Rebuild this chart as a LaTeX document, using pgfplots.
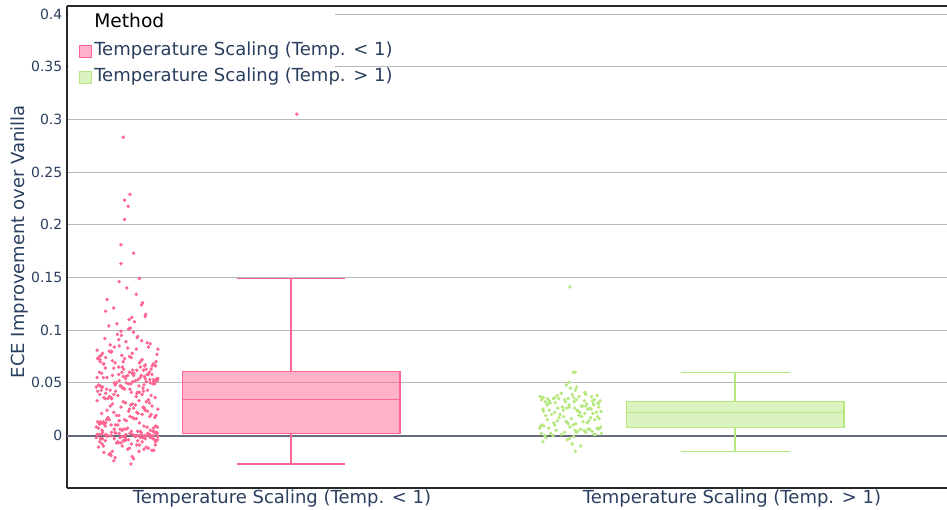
\documentclass[border=0pt]{standalone}
\usepackage{fontspec}
\setmainfont{DejaVu Sans}
\usepackage{pgfplots}
\pgfplotsset{compat=1.18}
\usepgfplotslibrary{statistics}
\usetikzlibrary{calc}
\definecolor{pinkline}{HTML}{FF6692}
\definecolor{greenline}{HTML}{B6E880}
\definecolor{plotlytext}{HTML}{2A3F5F}
\definecolor{gridgray}{RGB}{185,185,185}
\definecolor{zerogray}{RGB}{100,108,126}
\definecolor{framegray}{RGB}{40,40,40}
\begin{document}
\begin{tikzpicture}
\begin{axis}[
  name=ax,
  set layers=standard,
  scale only axis,
  width=660pt, height=361.5pt,
  xmin=-0.478, xmax=1.478,
  ymin=-0.0498, ymax=0.4076,
  axis x line*=box, axis y line*=left,
  axis line style={draw=framegray, line width=0.9pt},
  xtick={0,1},
  xticklabels={Temperature Scaling (Temp. < 1), Temperature Scaling (Temp. > 1)},
  ytick={0.05,0.1,0.15,0.2,0.25,0.3,0.35,0.4},
  yticklabels={0.05,0.1,0.15,0.2,0.25,0.3,0.35,0.4},
  extra y ticks={0},
  extra y tick labels={0},
  extra y tick style={grid=none, major tick length=0pt},
  major tick length=0pt,
  ymajorgrids,
  grid style={gridgray, line width=0.75pt},
  tick label style={color=plotlytext},
  yticklabel style={font=\fontsize{10.5}{12}\selectfont},
  xticklabel style={font=\fontsize{13.5}{16}\selectfont, inner sep=1pt},
  ylabel={ECE Improvement over Vanilla},
  every axis y label/.style={at={(axis description cs:-0.0545,0.511)}, rotate=90, anchor=center, font=\fontsize{13.5}{16}\selectfont, color=plotlytext},
  legend cell align=left,
  legend style={at={(0,1)}, anchor=north west, draw=none, fill=none,
    inner xsep=9pt, inner ysep=7.75pt, row sep=6.5pt,
    font=\fontsize{13.5}{16}\selectfont, text=plotlytext,
    nodes={inner xsep=1.5pt, inner ysep=0pt, text height=10pt, text depth=3pt}},
  boxplot/draw direction=y,
]
\fill[white] (rel axis cs:0.002,0.997) rectangle (rel axis cs:0.3045,0.805);
% zero line
\addplot[zerogray, line width=1.5pt, forget plot] coordinates {(-0.478,0) (1.478,0)};

% Pink jittered points
\addplot[only marks, mark=*, mark size=1.1pt, color=pinkline, forget plot] coordinates {
(-0.332,0.001) (-0.399,-0.003) (-0.306,0.000) (-0.365,-0.006) (-0.280,0.002) (-0.352,-0.001) (-0.297,-0.012) (-0.410,0.001) (-0.341,-0.004) (-0.315,-0.002)
(-0.384,-0.018) (-0.286,0.000) (-0.358,-0.007) (-0.406,0.001) (-0.323,-0.009) (-0.293,-0.002) (-0.377,-0.015) (-0.338,0.002) (-0.393,-0.005) (-0.276,-0.001)
(-0.371,-0.021) (-0.329,0.000) (-0.402,-0.003) (-0.302,-0.011) (-0.347,0.001) (-0.311,-0.006) (-0.413,-0.002) (-0.289,-0.014) (-0.362,0.002) (-0.335,-0.008)
(-0.389,-0.001) (-0.283,-0.004) (-0.380,-0.019) (-0.320,0.000) (-0.355,-0.010) (-0.295,0.001) (-0.404,-0.003) (-0.343,-0.013) (-0.308,-0.002) (-0.368,-0.007)
(-0.278,0.002) (-0.396,-0.016) (-0.326,-0.001) (-0.350,-0.005) (-0.300,0.000) (-0.374,-0.024) (-0.287,-0.003) (-0.411,0.001) (-0.317,-0.009) (-0.360,-0.002)
(-0.339,-0.012) (-0.387,0.000) (-0.281,-0.006) (-0.382,-0.017) (-0.313,0.001) (-0.346,-0.004) (-0.291,-0.001) (-0.400,-0.008) (-0.333,-0.020) (-0.370,0.002)
(-0.304,-0.003) (-0.408,-0.011) (-0.324,0.000) (-0.353,-0.005) (-0.285,-0.014) (-0.392,0.001) (-0.309,-0.002) (-0.363,-0.007) (-0.336,-0.027) (-0.379,0.000)
(-0.277,-0.004) (-0.397,-0.010) (-0.299,0.002) (-0.356,-0.001) (-0.318,-0.015) (-0.405,-0.006) (-0.294,0.001) (-0.373,-0.003) (-0.330,-0.022) (-0.390,0.000)
(-0.282,-0.009) (-0.348,-0.002) (-0.307,-0.013) (-0.401,0.001) (-0.321,-0.005)
(-0.321,0.004) (-0.401,0.021) (-0.307,0.009) (-0.348,0.031) (-0.282,0.003) (-0.390,0.015) (-0.330,0.026) (-0.373,0.006) (-0.294,0.018) (-0.405,0.011)
(-0.318,0.033) (-0.356,0.005) (-0.299,0.023) (-0.397,0.013) (-0.336,0.029) (-0.379,0.003) (-0.277,0.008) (-0.363,0.019) (-0.309,0.027) (-0.392,0.012)
(-0.285,0.004) (-0.353,0.032) (-0.324,0.016) (-0.408,0.007) (-0.304,0.024) (-0.370,0.010) (-0.333,0.030) (-0.400,0.005) (-0.291,0.020) (-0.346,0.014)
(-0.313,0.003) (-0.382,0.028) (-0.281,0.009) (-0.387,0.017) (-0.339,0.025) (-0.360,0.006) (-0.317,0.012) (-0.411,0.033) (-0.287,0.004) (-0.374,0.022)
(-0.300,0.008) (-0.350,0.015) (-0.326,0.029) (-0.396,0.011) (-0.278,0.003) (-0.368,0.019) (-0.308,0.026) (-0.343,0.007) (-0.404,0.013) (-0.295,0.031)
(-0.355,0.005) (-0.320,0.021) (-0.380,0.010) (-0.283,0.017) (-0.389,0.024) (-0.335,0.004) (-0.362,0.014) (-0.289,0.028) (-0.413,0.008) (-0.311,0.020)
(-0.347,0.006) (-0.302,0.032) (-0.402,0.012) (-0.329,0.016) (-0.371,0.003) (-0.276,0.025) (-0.393,0.009) (-0.338,0.018) (-0.377,0.030) (-0.293,0.005)
(-0.323,0.022) (-0.406,0.011) (-0.358,0.027) (-0.286,0.007) (-0.384,0.015) (-0.315,0.004) (-0.341,0.023) (-0.410,0.013) (-0.297,0.034) (-0.352,0.006)
(-0.280,0.019) (-0.365,0.010) (-0.306,0.026) (-0.399,0.003) (-0.332,0.017)
(-0.396,0.036) (-0.326,0.052) (-0.350,0.044) (-0.300,0.058) (-0.374,0.039) (-0.287,0.049) (-0.411,0.055) (-0.317,0.041) (-0.360,0.047) (-0.339,0.060)
(-0.387,0.035) (-0.281,0.053) (-0.382,0.043) (-0.313,0.057) (-0.346,0.050) (-0.291,0.038) (-0.400,0.046) (-0.333,0.059) (-0.370,0.042) (-0.304,0.054)
(-0.408,0.048) (-0.324,0.037) (-0.353,0.056) (-0.285,0.051) (-0.392,0.040) (-0.309,0.045) (-0.363,0.058) (-0.277,0.052) (-0.379,0.035) (-0.336,0.049)
(-0.397,0.055) (-0.299,0.043) (-0.356,0.060) (-0.318,0.047) (-0.405,0.039) (-0.294,0.053) (-0.373,0.050) (-0.330,0.057) (-0.390,0.044) (-0.282,0.036)
(-0.348,0.054) (-0.307,0.048) (-0.401,0.059) (-0.321,0.041) (-0.332,0.051) (-0.399,0.046) (-0.306,0.056) (-0.365,0.038) (-0.280,0.052) (-0.352,0.045)
(-0.297,0.058) (-0.410,0.042) (-0.341,0.049) (-0.315,0.055) (-0.384,0.037) (-0.286,0.053) (-0.358,0.047) (-0.406,0.060) (-0.323,0.040) (-0.293,0.050)
(-0.377,0.057) (-0.338,0.044) (-0.393,0.035) (-0.276,0.054) (-0.371,0.048) (-0.329,0.059) (-0.402,0.043) (-0.302,0.051) (-0.347,0.056) (-0.311,0.039)
(-0.413,0.046) (-0.289,0.058) (-0.362,0.052) (-0.335,0.041) (-0.389,0.055) (-0.283,0.049) (-0.380,0.036) (-0.320,0.053) (-0.355,0.045) (-0.295,0.060)
(-0.404,0.047) (-0.343,0.057) (-0.308,0.042) (-0.368,0.050) (-0.278,0.054)
(-0.332,0.062) (-0.399,0.078) (-0.306,0.066) (-0.363,0.091) (-0.280,0.070) (-0.352,0.063) (-0.297,0.084) (-0.410,0.073) (-0.341,0.101) (-0.315,0.065)
(-0.384,0.080) (-0.286,0.068) (-0.357,0.095) (-0.406,0.075) (-0.323,0.062) (-0.293,0.087) (-0.377,0.071) (-0.340,0.110) (-0.393,0.064) (-0.276,0.082)
(-0.371,0.069) (-0.330,0.098) (-0.402,0.076) (-0.302,0.063) (-0.347,0.089) (-0.311,0.072) (-0.392,0.118) (-0.289,0.066) (-0.362,0.085) (-0.335,0.074)
(-0.385,0.104) (-0.283,0.067) (-0.380,0.079) (-0.322,0.093) (-0.355,0.065) (-0.310,0.126) (-0.404,0.070) (-0.343,0.083) (-0.308,0.062) (-0.366,0.096)
(-0.278,0.077) (-0.396,0.068) (-0.328,0.108) (-0.350,0.073) (-0.300,0.088) (-0.374,0.064) (-0.304,0.113) (-0.411,0.081) (-0.317,0.069) (-0.358,0.099)
(-0.339,0.075) (-0.374,0.121) (-0.281,0.066) (-0.382,0.086) (-0.313,0.071) (-0.345,0.140) (-0.291,0.063) (-0.394,0.092) (-0.333,0.078) (-0.367,0.106)
(-0.304,0.067) (-0.389,0.129) (-0.324,0.082) (-0.353,0.070) (-0.303,0.115) (-0.392,0.074) (-0.312,0.090) (-0.363,0.065) (-0.317,0.149) (-0.379,0.080)
(-0.337,0.102) (-0.397,0.068) (-0.312,0.124) (-0.356,0.076) (-0.321,0.094) (-0.405,0.072) (-0.324,0.134) (-0.373,0.084) (-0.334,0.112) (-0.362,0.146)
(-0.353,0.283) (-0.338,0.229) (-0.350,0.2234) (-0.342,0.2175) (-0.350,0.205) (-0.358,0.181) (-0.330,0.173) (-0.358,0.163)
};
\addplot[only marks, mark=*, mark size=1.1pt, color=pinkline, forget plot] coordinates {(0.033,0.305)};

% Pink box (whiskers drawn separately)
\addplot[forget plot, line width=1pt,
  boxplot/every box/.style={draw=pinkline, fill=pinkline, fill opacity=0.5},
  boxplot/every median/.style={draw=pinkline},
  boxplot/every whisker/.style={draw=none},
  boxplot prepared={draw position=0.02, draw direction=y, lower whisker=0.002, lower quartile=0.002, median=0.0343,
  upper quartile=0.0605, upper whisker=0.0605, box extend=0.484, whisker extend=0}] coordinates {};
\addplot[pinkline, line width=1pt, forget plot] coordinates {(0.02,0.0605) (0.02,0.1488)};
\addplot[pinkline, line width=1pt, forget plot] coordinates {(-0.101,0.1488) (0.141,0.1488)};
\addplot[pinkline, line width=1pt, forget plot] coordinates {(0.02,0.002) (0.02,-0.027)};
\addplot[pinkline, line width=1pt, forget plot] coordinates {(-0.101,-0.027) (0.141,-0.027)};

% Green jittered points
\addplot[only marks, mark=*, mark size=1.1pt, color=greenline, forget plot] coordinates {
(0.654,0.003) (0.587,-0.002) (0.680,0.006) (0.621,0.001) (0.706,0.007) (0.634,-0.004) (0.689,0.004) (0.576,0.002) (0.645,-0.008) (0.671,0.005)
(0.602,0.000) (0.700,0.007) (0.628,0.003) (0.580,-0.006) (0.663,0.006) (0.693,0.001) (0.609,0.005) (0.648,-0.001) (0.593,0.007) (0.710,0.002)
(0.652,-0.015) (0.657,0.004) (0.584,0.000) (0.684,0.006) (0.639,-0.003) (0.675,0.003) (0.573,0.007) (0.697,0.001) (0.664,-0.010) (0.651,0.005)
(0.597,0.002) (0.703,0.006)
(0.606,0.010) (0.666,0.018) (0.631,0.013) (0.691,0.021) (0.582,0.009) (0.643,0.016) (0.678,0.012) (0.618,0.020) (0.708,0.008) (0.590,0.015)
(0.660,0.019) (0.636,0.011) (0.686,0.017) (0.612,0.014) (0.699,0.022) (0.575,0.009) (0.669,0.013) (0.626,0.018) (0.647,0.010) (0.599,0.020)
(0.705,0.016) (0.604,0.012) (0.673,0.021) (0.640,0.008) (0.695,0.015) (0.586,0.019) (0.653,0.011) (0.616,0.017) (0.682,0.014) (0.578,0.010)
(0.662,0.022) (0.633,0.013) (0.701,0.018)
(0.594,0.024) (0.677,0.030) (0.623,0.027) (0.709,0.023) (0.607,0.031) (0.650,0.026) (0.589,0.029) (0.687,0.025) (0.630,0.032) (0.668,0.028)
(0.581,0.023) (0.692,0.030) (0.613,0.026) (0.656,0.024) (0.596,0.031) (0.704,0.027) (0.638,0.029) (0.679,0.025) (0.585,0.032) (0.665,0.028)
(0.658,0.023) (0.591,0.030) (0.684,0.026) (0.625,0.024) (0.702,0.031) (0.638,0.027) (0.693,0.029) (0.580,0.025) (0.649,0.032) (0.675,0.028)
(0.606,0.022) (0.704,0.030) (0.632,0.026)
(0.577,0.034) (0.660,0.037) (0.690,0.033) (0.606,0.036) (0.645,0.039) (0.590,0.035) (0.707,0.033) (0.612,0.038) (0.654,0.034) (0.581,0.036)
(0.673,0.041) (0.636,0.035) (0.672,0.033) (0.574,0.037) (0.694,0.034) (0.621,0.040) (0.648,0.036) (0.594,0.033) (0.700,0.038) (0.603,0.035)
(0.652,0.043) (0.628,0.034) (0.688,0.037) (0.579,0.036) (0.641,0.045) (0.675,0.039) (0.615,0.035) (0.632,0.048) (0.655,0.046) (0.638,0.0505)
(0.647,0.060) (0.652,0.060)
(0.640,0.141)
};

% Green box (whiskers drawn separately)
\addplot[forget plot, line width=1pt,
  boxplot/every box/.style={draw=greenline, fill=greenline, fill opacity=0.5},
  boxplot/every median/.style={draw=greenline},
  boxplot/every whisker/.style={draw=none},
  boxplot prepared={draw position=1.007, draw direction=y, lower whisker=0.0078, lower quartile=0.0078, median=0.022,
  upper quartile=0.032, upper whisker=0.032, box extend=0.484, whisker extend=0}] coordinates {};
\addplot[greenline, line width=1pt, forget plot] coordinates {(1.007,0.032) (1.007,0.06)};
\addplot[greenline, line width=1pt, forget plot] coordinates {(0.886,0.06) (1.128,0.06)};
\addplot[greenline, line width=1pt, forget plot] coordinates {(1.007,0.0078) (1.007,-0.0154)};
\addplot[greenline, line width=1pt, forget plot] coordinates {(0.886,-0.0154) (1.128,-0.0154)};

\addlegendimage{empty legend}
\addlegendentry{\raisebox{2pt}{\color{black}\fontsize{14}{16}\selectfont Method}}
\addlegendimage{legend image code/.code={\draw[fill=pinkline!50, draw=pinkline, line width=0.75pt] (0pt,-4.5pt) rectangle (9pt,4.5pt);}}
\addlegendentry{Temperature Scaling (Temp. < 1)}
\addlegendimage{legend image code/.code={\draw[fill=greenline!50, draw=greenline, line width=0.75pt] (0pt,-4.5pt) rectangle (9pt,4.5pt);}}
\addlegendentry{Temperature Scaling (Temp. > 1)}
\end{axis}
\pgfresetboundingbox
\path ($(ax.south west)+(-50.25pt,-16.5pt)$) rectangle ($(ax.north east)+(0pt,4.5pt)$);
\end{tikzpicture}
\end{document}
